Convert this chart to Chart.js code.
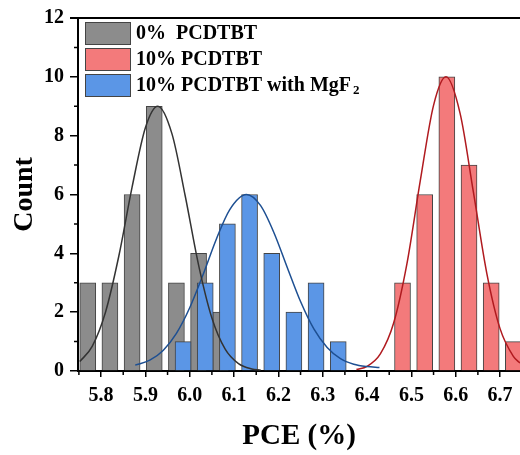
<!DOCTYPE html>
<html>
<head>
<meta charset="utf-8">
<script src="https://cdn.jsdelivr.net/npm/chart.js@4.4.1/dist/chart.umd.min.js"></script>
<style>
  body { margin: 0; background: #fff; }
</style>
</head>
<body>
<canvas id="myChart" width="520" height="455"></canvas>
<script>
// histogram bins (bin centres, PCE %) and counts
const grayBins = [5.77, 5.82, 5.87, 5.92, 5.97, 6.02, 6.07];
const grayCounts = [3, 3, 6, 9, 3, 4, 2];
const redBins = [6.48, 6.53, 6.58, 6.63, 6.68, 6.73];
const redCounts = [3, 6, 10, 7, 3, 1];
const blueBins = [5.985, 6.035, 6.085, 6.135, 6.185, 6.235, 6.285, 6.335];
const blueCounts = [1, 3, 5, 6, 4, 2, 3, 1];

// fit curves
const grayFitX = [5.752, 5.78, 5.81, 5.84, 5.87, 5.90, 5.928, 5.96, 5.99, 6.02, 6.05, 6.08, 6.11, 6.14, 6.16];
const grayFitY = [0.32, 0.84, 2.00, 3.90, 6.25, 8.27, 9.00, 8.06, 5.94, 3.60, 1.80, 0.74, 0.25, 0.07, 0.03];
const blueFitX = [5.877, 5.91, 5.94, 5.97, 6.00, 6.03, 6.06, 6.09, 6.128, 6.16, 6.19, 6.22, 6.25, 6.28, 6.31, 6.34, 6.37, 6.40, 6.428];
const blueFitY = [0.20, 0.37, 0.70, 1.28, 2.15, 3.27, 4.48, 5.48, 6.00, 5.62, 4.70, 3.52, 2.36, 1.43, 0.80, 0.42, 0.23, 0.15, 0.12];
const redFitX = [6.376, 6.40, 6.43, 6.46, 6.49, 6.52, 6.55, 6.578, 6.61, 6.64, 6.67, 6.70, 6.73, 6.745];
const redFitY = [0.05, 0.16, 0.58, 1.63, 3.65, 6.46, 9.03, 10.00, 8.75, 6.07, 3.33, 1.44, 0.50, 0.27];

const seriesNames = ["0%  PCDTBT", "10% PCDTBT", "10% PCDTBT with MgF"];
const xTicks = [5.8, 5.9, 6.0, 6.1, 6.2, 6.3, 6.4, 6.5, 6.6, 6.7];
const xMinor = [5.75, 5.85, 5.95, 6.05, 6.15, 6.25, 6.35, 6.45, 6.55, 6.65];
const yMinor = [1, 3, 5, 7, 9, 11];

const FONT = "'Liberation Serif', 'Times New Roman', serif";
const grayFill = "#8c8c8c", redFill = "#f37a7b", blueFill = "#5b96e6";
const barEdge = "#444444";

function pts(xs, ys) { return xs.map((x, i) => ({x: x, y: ys[i]})); }

// extra drawing: top frame, minor ticks and the legend box inside the plot
const extras = {
  id: "extras",
  afterDraw(chart) {
    const ctx = chart.ctx, a = chart.chartArea;
    const xs = chart.scales.x, ys = chart.scales.y;
    ctx.save();
    ctx.strokeStyle = "#000";
    ctx.lineWidth = 2;
    ctx.beginPath();
    ctx.moveTo(a.left - 8, a.top);
    ctx.lineTo(a.right, a.top);
    ctx.stroke();
    // minor ticks
    ctx.lineWidth = 1.5;
    ctx.beginPath();
    xMinor.forEach(v => {
      const px = xs.getPixelForValue(v);
      ctx.moveTo(px, a.bottom); ctx.lineTo(px, a.bottom + 4);
    });
    yMinor.forEach(v => {
      const py = ys.getPixelForValue(v);
      ctx.moveTo(a.left, py); ctx.lineTo(a.left - 4, py);
    });
    ctx.stroke();
    // legend
    const fills = [grayFill, redFill, blueFill];
    ctx.textBaseline = "middle";
    fills.forEach((c, i) => {
      const bx = a.left + 7, by = a.top + 4 + i * 26;
      ctx.fillStyle = c;
      ctx.fillRect(bx, by, 45, 22);
      ctx.strokeStyle = barEdge;
      ctx.lineWidth = 1;
      ctx.strokeRect(bx + 0.5, by + 0.5, 45, 22);
      ctx.fillStyle = "#000";
      ctx.font = "bold 20px " + FONT;
      ctx.fillText(seriesNames[i], bx + 51, by + 12);
      if (i == 2) {
        const w = ctx.measureText(seriesNames[i]).width;
        ctx.font = "bold 13px " + FONT;
        ctx.fillText("2", bx + 53 + w, by + 17);
      }
    });
    ctx.restore();
  }
};

let myChart = document.getElementById("myChart").getContext("2d");

let pceChart = new Chart(myChart, {
  type: "bar",
  data: {
    datasets: [
      {type: "line", data: pts(grayFitX, grayFitY), borderColor: "#333333", borderWidth: 1.5,
       pointRadius: 0, cubicInterpolationMode: "monotone", order: 0},
      {type: "line", data: pts(blueFitX, blueFitY), borderColor: "#1d4f92", borderWidth: 1.5,
       pointRadius: 0, cubicInterpolationMode: "monotone", order: 0},
      {type: "line", data: pts(redFitX, redFitY), borderColor: "#b01a1f", borderWidth: 1.5,
       pointRadius: 0, cubicInterpolationMode: "monotone", order: 0},
      {label: seriesNames[2], data: pts(blueBins, blueCounts), backgroundColor: blueFill,
       borderColor: barEdge, borderWidth: 1, grouped: false, barThickness: 16, order: 1},
      {label: seriesNames[1], data: pts(redBins, redCounts), backgroundColor: redFill,
       borderColor: barEdge, borderWidth: 1, grouped: false, barThickness: 16, order: 2},
      {label: seriesNames[0], data: pts(grayBins, grayCounts), backgroundColor: grayFill,
       borderColor: barEdge, borderWidth: 1, grouped: false, barThickness: 16, order: 3}
    ]
  },
  options: {
    responsive: false,
    animation: false,
    devicePixelRatio: 1,
    layout: { padding: {top: 14, right: 0, bottom: 0, left: 0} },
    plugins: { legend: {display: false}, tooltip: {enabled: false} },
    scales: {
      x: {
        type: "linear",
        offset: false,
        min: 5.748, max: 6.745,
        afterBuildTicks: s => { s.ticks = xTicks.map(v => ({value: v})); },
        afterFit: s => { s.height = 84; },
        border: {color: "#000", width: 2},
        grid: {offset: false, drawOnChartArea: false, color: "#000", lineWidth: 1.5, tickLength: 6},
        ticks: {color: "#000", padding: 7, maxRotation: 0, autoSkip: false,
                font: {family: FONT, size: 20, weight: "bold"},
                callback: v => v.toFixed(1)},
        title: {display: true, text: "PCE (%)", color: "#000", padding: {top: 0, bottom: 1},
                font: {family: FONT, size: 29, weight: "bold"}}
      },
      y: {
        min: 0, max: 12,
        afterFit: s => { s.width = 78; },
        border: {color: "#000", width: 2},
        grid: {drawOnChartArea: false, color: "#000", lineWidth: 1.5, tickLength: 8},
        ticks: {stepSize: 2, color: "#000", padding: 6,
                font: {family: FONT, size: 20, weight: "bold"}},
        title: {display: true, text: "Count", color: "#000", padding: {top: 8, bottom: 0},
                font: {family: FONT, size: 28, weight: "bold"}}
      }
    }
  },
  plugins: [extras]
});
</script>
</body>
</html>
